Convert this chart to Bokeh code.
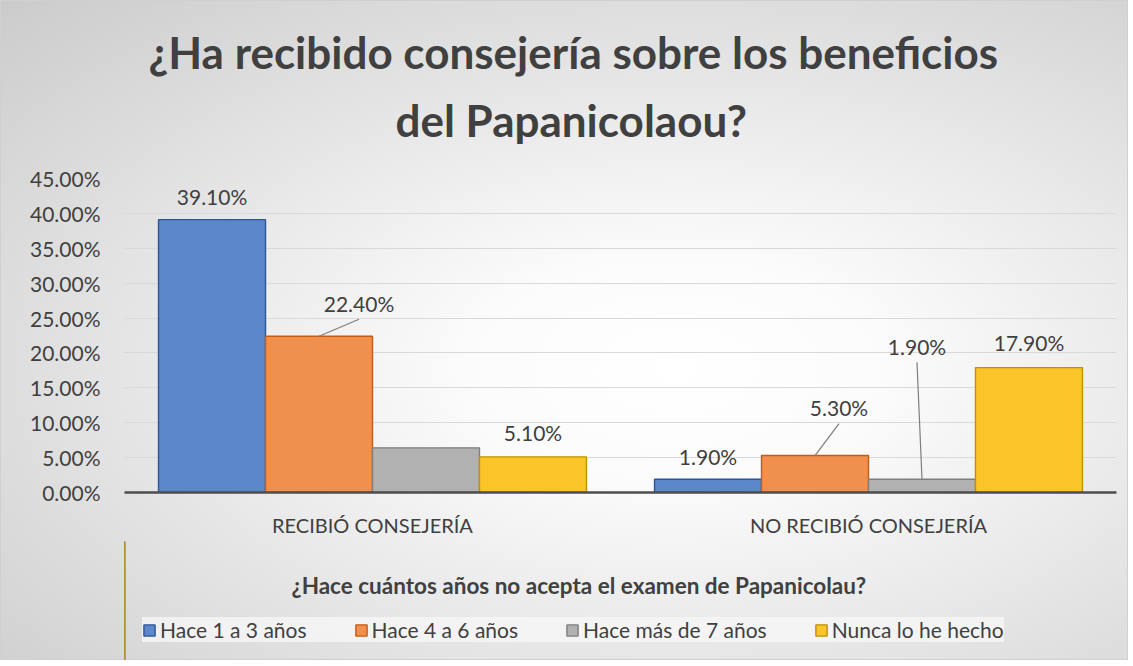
from bokeh.plotting import figure
from bokeh.models import Range1d, FixedTicker, Title, Legend, LegendItem, Label
from bokeh.layouts import column
from bokeh.core.properties import value
from bokeh.embed import file_html
from bokeh.resources import INLINE

# ---------------- data ----------------
categories = ["RECIBIÓ CONSEJERÍA", "NO RECIBIÓ CONSEJERÍA"]
series_names = ["Hace 1 a 3 años", "Hace 4 a 6 años", "Hace más de 7 años", "Nunca lo he hecho"]
hace_1_a_3 = [39.10, 1.90]
hace_4_a_6 = [22.40, 5.30]
hace_mas_7 = [6.40, 1.90]
nunca = [5.10, 17.90]
show_label = [[True, True], [True, True], [False, True], [True, True]]
y_ticks = [0, 5, 10, 15, 20, 25, 30, 35, 40, 45]
title_lines = ["¿Ha recibido consejería sobre los beneficios", "del Papanicolaou?"]
x_title = "¿Hace cuántos años no acepta  el examen de Papanicolau?"

# ---------------- style ----------------
fills = ["#5b87cb", "#f0904f", "#b1b1b1", "#fbc429"]
lines = ["#2f5597", "#c55a11", "#7f7f7f", "#bf9000"]
TXT = "#404040"
FONT = "Lato"
TOTAL_W, TOTAL_H = 1128, 660
FRAME_W, FRAME_H = 992, 314
PXX = FRAME_W / 2.0
PXY = FRAME_H / 45.0
BAR_W = 0.2157
offsets = [-1.5 * BAR_W, -0.5 * BAR_W, 0.5 * BAR_W, 1.5 * BAR_W]
# label offsets (px right, px up) from bar top centre, and whether a leader line is drawn
label_dx = [[0, 0], [40, 24], [0, -5], [0, 0]]
label_dy = [[23, 23], [33, 48], [0, 133], [24, 25]]
leader = [[False, False], [True, True], [False, True], [False, False]]

values = [hace_1_a_3, hace_4_a_6, hace_mas_7, nunca]

BOTTOM = 49
p = figure(frame_width=FRAME_W, frame_height=FRAME_H, title=None,
           x_range=Range1d(0, len(categories)), y_range=Range1d(0, 45),
           output_backend="svg", toolbar_location=None,
           min_border_left=118, min_border_right=18, min_border_top=178, min_border_bottom=BOTTOM,
           border_fill_color=None, background_fill_color=None, outline_line_color=None)

p.xgrid.visible = False
p.ygrid.grid_line_color = "#d9d9d9"
p.ygrid.grid_line_width = 1

p.yaxis.ticker = FixedTicker(ticks=y_ticks)
p.yaxis.major_label_overrides = {t: f"{t:.2f}%" for t in y_ticks}
p.yaxis.axis_line_color = None
p.yaxis.major_tick_line_color = None
p.yaxis.minor_tick_line_color = None
p.yaxis.major_label_standoff = 18
p.yaxis.major_label_text_font = FONT
p.yaxis.major_label_text_font_size = "21px"
p.yaxis.major_label_text_color = TXT

xt = [i + 0.5 for i in range(len(categories))]
p.xaxis.ticker = FixedTicker(ticks=xt)
p.xaxis.major_label_overrides = {x: c for x, c in zip(xt, categories)}
p.xaxis.axis_line_color = "#4d4d4d"
p.xaxis.axis_line_width = 2.5
p.xaxis.major_tick_line_color = None
p.xaxis.minor_tick_line_color = None
p.xaxis.major_label_standoff = 14
p.xaxis.major_label_text_font = FONT
p.xaxis.major_label_text_font_size = "20px"
p.xaxis.major_label_text_color = TXT

for s, vals in enumerate(values):
    xs = [i + 0.5 + offsets[s] for i in range(len(vals))]
    p.vbar(x=xs, top=vals, width=BAR_W, bottom=0, fill_color=fills[s],
           line_color=lines[s], line_width=1.4)
    lx, ly, lt, sx0, sy0, sx1, sy1 = [], [], [], [], [], [], []
    for i, v in enumerate(vals):
        if not show_label[s][i]:
            continue
        lx.append(xs[i] + label_dx[s][i] / PXX)
        ly.append(v + label_dy[s][i] / PXY)
        lt.append(f"{v:.2f}%")
        if leader[s][i]:
            sx0.append(xs[i]); sy0.append(v)
            sx1.append(xs[i] + label_dx[s][i] / PXX)
            sy1.append(v + (label_dy[s][i] - 16) / PXY)
    if sx0:
        p.segment(x0=sx0, y0=sy0, x1=sx1, y1=sy1, line_color="#7f7f7f", line_width=1.2)
    p.text(x=lx, y=ly, text=lt, text_align="center", text_baseline="middle",
           text_font=value(FONT), text_font_size="21px", text_color=TXT)

# titles (line 2 closest to the frame, line 1 above it)
t2 = Title(text=title_lines[1], align="left", offset=271, vertical_align="middle", standoff=63,
           text_font=FONT, text_font_size="44px", text_font_style="bold", text_color=TXT)
t1 = Title(text=title_lines[0], align="left", offset=24, vertical_align="middle", standoff=-35,
           text_font=FONT, text_font_size="44px", text_font_style="bold", text_color=TXT)
p.add_layout(t2, "above")
p.add_layout(t1, "above")

# ---------- lower strip: axis title + legend ----------
LEG_H = TOTAL_H - (178 + FRAME_H + BOTTOM)
LEG_LEFT = 124
q = figure(width=TOTAL_W, height=LEG_H, output_backend="svg", toolbar_location=None,
           x_axis_type=None, y_axis_type=None, title=None,
           x_range=Range1d(0, 1), y_range=Range1d(0, 1),
           min_border_left=LEG_LEFT, min_border_right=0, min_border_top=0, min_border_bottom=0,
           border_fill_color=None, background_fill_color=None, outline_line_color=None)
q.xgrid.visible = False
q.ygrid.visible = False

# legend swatches: one hidden sample per series, placed outside the visible range
items = []
for s in range(len(series_names)):
    r = q.vbar(x=[-10], top=[1], width=0.5, fill_color=fills[s], line_color=lines[s], line_width=1.4)
    items.append(LegendItem(label=series_names[s], renderers=[r]))

q.add_layout(Label(x=581 - LEG_LEFT, y=660 - 585, x_units="screen", y_units="screen",
                   text=x_title, text_align="center", text_baseline="middle",
                   text_font=FONT, text_font_size="22.5px", text_font_style="bold",
                   text_color=TXT))

legend = Legend(items=items, orientation="horizontal", location="bottom_left",
                label_text_font=FONT, label_text_font_size="21px", label_text_color=TXT,
                glyph_width=14, glyph_height=14, label_standoff=4, spacing=47,
                padding=13, margin=18,
                background_fill_color="#f6f6f6", background_fill_alpha=0.8,
                border_line_color=None)
q.add_layout(legend, "center")

layout = column(p, q, spacing=0)
layout.styles = {"background": "radial-gradient(ellipse farthest-corner at 60% 56%, #ffffff 0%, #fbfbfb 22%, #cbcbcb 100%)",
                 "box-shadow": "inset 0 0 0 1px #d0d0d0"}

open("out.html", "w").write(file_html(layout, INLINE))
